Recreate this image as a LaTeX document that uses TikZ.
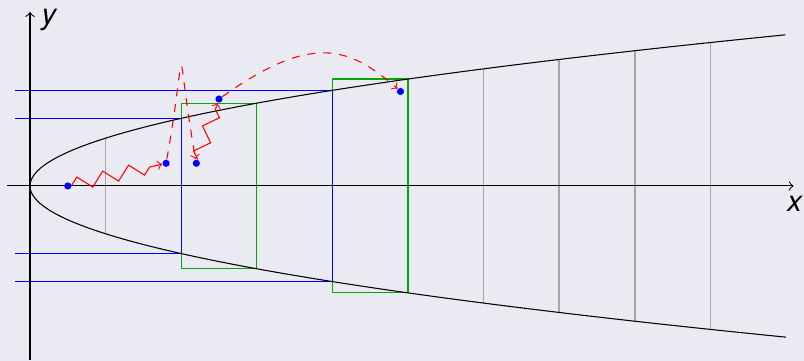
\documentclass[tikz,border=0pt]{standalone}
\usepackage{fontspec}
\setmainfont{TeX Gyre Heros}
\usetikzlibrary{decorations.pathmorphing}
\definecolor{bg}{RGB}{234,234,242}
\definecolor{grn}{RGB}{0,170,0}
\pgfdeclarelayer{fg}
\pgfsetlayers{main,fg}
\begin{document}
\begin{tikzpicture}[
  dot/.style={circle,fill=blue,inner sep=0pt,minimum size=2.7pt},
  walk/.style={red,->,decorate,decoration={zigzag,segment length=10pt,amplitude=2.5pt}},
  jump/.style={red,->,dashed},
  lbl/.style={font=\fontsize{11}{13}\selectfont\itshape,inner sep=0pt,anchor=base west},
  guide/.style={gray!70,line width=0.65pt},
  box/.style={grn,line width=0.45pt},
  level/.style={blue,line width=0.45pt},
]
\fill[bg] (-0.397,-2.315) rectangle (10.238,2.460);
\useasboundingbox (-0.397,-2.315) rectangle (10.238,2.460);

% grey verticals
\foreach \x in {1,6,7,8,9}
  \draw[guide] (\x,{-sqrt(0.4*\x)}) -- (\x,{sqrt(0.4*\x)});

% green boxes
\draw[box] (2,{-sqrt(1.2)}) rectangle (3,{sqrt(1.2)});
\draw[box] (4,{-sqrt(2.0)}) rectangle (5,{sqrt(2.0)});

% blue levels
\draw[level] (-0.2,{sqrt(0.8)}) -| (2,{-sqrt(0.8)}) -- (-0.2,{-sqrt(0.8)});
\draw[level] (-0.2,{sqrt(1.6)}) -| (4,{-sqrt(1.6)}) -- (-0.2,{-sqrt(1.6)});

% parabola
\draw[domain=-2:2,samples=121,smooth,variable=\t] plot ({2.5*\t*\t},\t);

% axes
\draw[->] (-0.3,0) -- (10.1,0);
\draw[->] (0,-2.3) -- (0,2.3);
\node[lbl] (ylab) at (0.146,2.14) {y};
\node[lbl] (xlab) at (10.01,-0.344) {x};

% points
\begin{pgfonlayer}{fg}
\node[dot] (p0) at (0.5,0) {};
\node[dot] (p1) at (1.8,0.3) {};
\node[dot] (p2) at (2.2,0.3) {};
\node[dot] (p3) at (2.5,1.15) {};
\node[dot] (p4) at (4.9,1.25) {};
\end{pgfonlayer}

% paths
\draw[walk] (p0) -- (p1);
\draw[jump] (p1) .. controls (2.1,2.0) and (1.9,2.0) .. (p2);
\draw[walk] (p2) -- (p3);
\draw[jump] (p3) .. controls (3.7,2.0) and (4.2,1.87) .. (p4);
\end{tikzpicture}
\end{document}
